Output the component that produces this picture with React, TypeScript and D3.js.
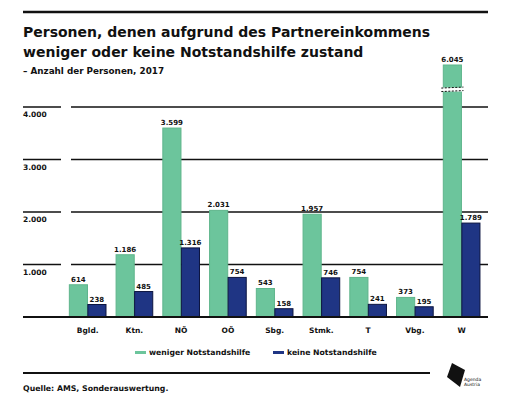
import React from "react";
import * as d3 from "d3";

const categories = ["Bgld.", "Ktn.", "NÖ", "OÖ", "Sbg.", "Stmk.", "T", "Vbg.", "W"];
const wenigerValues = [614, 1186, 3599, 2031, 543, 1957, 754, 373, 6045];
const keineValues = [238, 485, 1316, 754, 158, 746, 241, 195, 1789];
const yTicks = [1000, 2000, 3000, 4000];
const seriesNames = ["weniger Notstandshilfe", "keine Notstandshilfe"];
const axisCap = 4800; // bars above this value are drawn truncated with a break mark

const W = 512;
const H = 402;
const GREEN = "#6cc59c";
const BLUE = "#1f3584";
const FONT = "'DejaVu Sans', sans-serif";
const fmt = (v: number) => d3.format(",")(v).replace(/,/g, ".");

export default function App() {
  React.useEffect(() => {
    document.body.style.margin = "0";
  }, []);

  const x = d3.scaleBand<string>().domain(categories).range([64.3, 485]).paddingInner(0.2).paddingOuter(0.1);
  const sub = d3.scaleBand<number>().domain([0, 1]).range([0, x.bandwidth()]).padding(0.02);
  const y = d3.scaleLinear().domain([0, 4000]).range([317, 107]);

  const series = [wenigerValues, keineValues];
  const colors = [GREEN, BLUE];
  const strokes = ["#5fb58c", "#0c1540"];

  return (
    <svg width={W} height={H} style={{ display: "block", background: "#fff" }} fontFamily={FONT}>
      {/* top rule */}
      <line x1={23} x2={488} y1={12} y2={12} stroke="#111" strokeWidth={2.5} />
      {/* title */}
      <text x={23} y={37} fontSize={14} fontWeight={700} fill="#111">
        Personen, denen aufgrund des Partnereinkommens
      </text>
      <text x={23} y={57} fontSize={14} fontWeight={700} fill="#111">
        weniger oder keine Notstandshilfe zustand
      </text>
      <text x={23} y={74} fontSize={8.8} fontWeight={700} fill="#111">
        – Anzahl der Personen, 2017
      </text>

      {/* grid */}
      {yTicks.map((t) => (
        <g key={t}>
          <line x1={23} x2={61} y1={y(t)} y2={y(t)} stroke="#111" strokeWidth={1.5} />
          <line x1={71} x2={488} y1={y(t)} y2={y(t)} stroke="#111" strokeWidth={1.5} />
          <text x={23} y={y(t) + 10} fontSize={7.5} fontWeight={700} fill="#111">
            {fmt(t)}
          </text>
        </g>
      ))}

      {/* bars */}
      {categories.map((c, i) => (
        <g key={c} transform={`translate(${x(c)},0)`}>
          {series.map((s, k) => {
            const v = s[i];
            const shown = Math.min(v, axisCap);
            const bx = sub(k)!;
            const bw = sub.bandwidth();
            const top = y(shown);
            return (
              <g key={k}>
                <rect x={bx} y={top} width={bw} height={y(0) - top} fill={colors[k]} stroke={strokes[k]} strokeWidth={1} />
                {v > axisCap && (
                  <g>
                    <rect x={bx - 1} y={y(axisCap - 430)} width={bw + 2} height={4} fill="#fff" />
                    <line x1={bx - 2} x2={bx + bw + 2} y1={y(axisCap - 430) + 0.5} y2={y(axisCap - 430) - 0.5} stroke="#111" strokeWidth={1} strokeDasharray="2,1.5" />
                    <line x1={bx - 2} x2={bx + bw + 2} y1={y(axisCap - 430) + 4} y2={y(axisCap - 430) + 3} stroke="#111" strokeWidth={1} strokeDasharray="2,1.5" />
                  </g>
                )}
                <text x={bx + bw / 2} y={top - 3} fontSize={7} fontWeight={700} textAnchor="middle" fill="#111">
                  {fmt(v)}
                </text>
              </g>
            );
          })}
          <text x={x.bandwidth() / 2} y={333} fontSize={7.5} fontWeight={700} textAnchor="middle" fill="#111">
            {c}
          </text>
        </g>
      ))}

      {/* baseline */}
      <line x1={23} x2={488} y1={y(0)} y2={y(0)} stroke="#111" strokeWidth={2} />

      {/* legend */}
      <rect x={135} y={351} width={11} height={3} fill={GREEN} />
      <text x={149} y={355} fontSize={7.7} fontWeight={700} fill="#111">{seriesNames[0]}</text>
      <rect x={273} y={351} width={11} height={3} fill={BLUE} />
      <text x={287} y={355} fontSize={7.7} fontWeight={700} fill="#111">{seriesNames[1]}</text>

      {/* bottom rule + source */}
      <line x1={23} x2={430} y1={373} y2={373} stroke="#111" strokeWidth={2} />
      <text x={23} y={391} fontSize={7.8} fontWeight={700} fill="#111">
        Quelle: AMS, Sonderauswertung.
      </text>

      {/* logo */}
      <path d="M452,363 L465,370 L460,387 L447,377 Z" fill="#111" />
      <text x={464} y={381} fontSize={4.5} fill="#111">Agenda</text>
      <text x={464} y={386} fontSize={4.5} fill="#111">Austria</text>
    </svg>
  );
}
